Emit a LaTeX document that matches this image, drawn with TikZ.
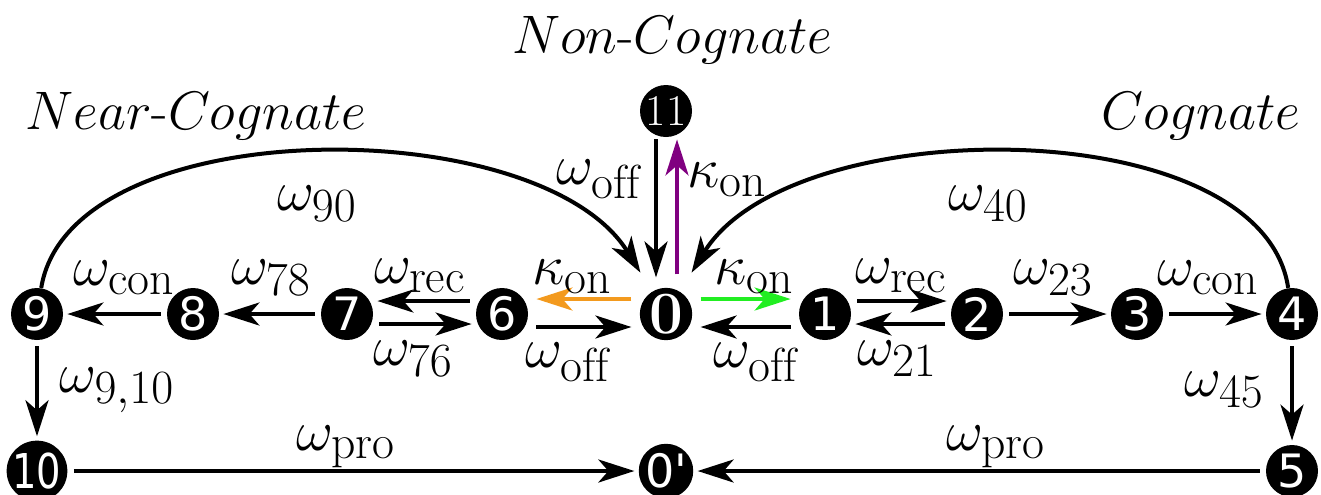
\documentclass[tikz,border=0pt]{standalone}
\usepackage{graphicx}
\usepackage{fontspec}
\newfontfamily\numfont{DejaVu Sans}
\usetikzlibrary{arrows.meta}
\definecolor{korange}{RGB}{243,154,30}
\definecolor{kgreen}{RGB}{34,238,34}
\definecolor{kpurple}{RGB}{128,0,128}
\newcommand{\mylbl}[1]{\scalebox{1.15}{\Huge$#1$}}
\newcommand{\myttl}[1]{\scalebox{1.09}{\Huge #1}}
\begin{document}
\begin{tikzpicture}[x=0.5pt,y=-0.5pt,
  st/.style={circle,fill=black,text=white,minimum size=26pt,inner sep=0pt,font=\numfont\fontsize{23}{23}\selectfont},
  ar/.style={line width=2pt,-{Stealth[length=18pt,width=11.5pt,inset=5pt]},shorten >=2pt,shorten <=3pt},
  near/.style={shorten >=4pt,shorten <=4pt},
  lab/.style={inner sep=0pt},
  ttl/.style={inner sep=0pt}]
\useasboundingbox (0,0) rectangle (1321,494);
% states
\node[st] (n9) at (37,314) {9};
\node[st] (n8) at (193,314) {8};
\node[st] (n7) at (347,314) {7};
\node[st] (n6) at (502,314) {6};
\node[st,font=\rmfamily\bfseries\fontsize{30}{30}\selectfont] (n0) at (666,314) {0};
\node[st] (n1) at (825,314) {1};
\node[st] (n2) at (977,314) {2};
\node[st] (n3) at (1137,314) {3};
\node[st] (n4) at (1292,314) {4};
\node[st,font=\rmfamily\fontsize{22}{22}\selectfont] (n11) at (666,111) {11};
\node[st] (n10) at (37,471) {\scalebox{0.8}[1]{\fontsize{24}{24}\selectfont 10}};
\node[st] (n0p) at (666,471) {0'};
\node[st] (n5) at (1292,471) {5};
% titles
\node[ttl] (tnon) at (672,40) {\myttl{$Non$-$Cognate$}};
\node[ttl] (tnear) at (196,116) {\myttl{$Near$-$Cognate$}};
\node[ttl] (tcog) at (1201,116) {\myttl{$Cognate$}};
% connectors
\draw[ar] (n8) -- (n9);
\draw[ar] (n7) -- (n8);
\draw[ar] ([yshift=6.5pt]n6.west) -- ([yshift=6.5pt]n7.east);
\draw[ar] ([yshift=-5pt]n7.east) -- ([yshift=-5pt]n6.west);
\draw[ar,near,draw=korange] ([yshift=7.5pt]n0.west) -- ([yshift=7.5pt]n6.east);
\draw[ar,near] ([yshift=-6.5pt]n6.east) -- ([yshift=-6.5pt]n0.west);
\draw[ar,near,draw=kgreen] ([yshift=7.5pt]n0.east) -- ([yshift=7.5pt]n1.west);
\draw[ar,near] ([yshift=-6.5pt]n1.west) -- ([yshift=-6.5pt]n0.east);
\draw[ar] ([yshift=6.5pt]n1.east) -- ([yshift=6.5pt]n2.west);
\draw[ar] ([yshift=-5pt]n2.west) -- ([yshift=-5pt]n1.east);
\draw[ar] (n2) -- (n3);
\draw[ar] (n3) -- (n4);
\draw[ar] (n4) -- (n5);
\draw[ar] (n9) -- (n10);
\draw[ar] (n10) -- (n0p);
\draw[ar] (n5) -- (n0p);
\draw[ar,shorten <=1pt,shorten >=5pt] ([xshift=-5pt]n11.south) -- ([xshift=-5pt]n0.north);
\draw[ar,draw=kpurple,shorten <=6.5pt,shorten >=1pt] ([xshift=5.5pt]n0.north) -- ([xshift=5.5pt]n11.south);
\draw[ar,shorten <=0pt,shorten >=11pt] (n9) .. controls (70,110) and (540,110) .. (n0);
\draw[ar,shorten <=0pt,shorten >=11pt] (n4) .. controls (1262,110) and (792,110) .. (n0);
% labels
\node[lab] (l11a) at (599,179) {\mylbl{\omega_{\mathrm{off}}}};
\node[lab] (l11b) at (727,180) {\mylbl{\kappa_{\mathrm{on}}}};
\node[lab] (lor) at (572,277) {\mylbl{\kappa_{\mathrm{on}}}};
\node[lab] (lgr) at (754,277) {\mylbl{\kappa_{\mathrm{on}}}};
\node[lab] (l60) at (568,362) {\mylbl{\omega_{\mathrm{off}}}};
\node[lab] (l10) at (756,362) {\mylbl{\omega_{\mathrm{off}}}};
\node[lab] (l67) at (420,276) {\mylbl{\omega_{\mathrm{rec}}}};
\node[lab] (l76) at (413,359) {\mylbl{\omega_{76}}};
\node[lab] (l12) at (901,276) {\mylbl{\omega_{\mathrm{rec}}}};
\node[lab] (l21) at (897,359) {\mylbl{\omega_{21}}};
\node[lab] (l23) at (1053,278) {\mylbl{\omega_{23}}};
\node[lab] (l34) at (1208,278) {\mylbl{\omega_{\mathrm{con}}}};
\node[lab] (l78) at (271,278) {\mylbl{\omega_{78}}};
\node[lab] (l89) at (124,278) {\mylbl{\omega_{\mathrm{con}}}};
\node[lab] (l90) at (317,204) {\mylbl{\omega_{90}}};
\node[lab] (l40) at (988,204) {\mylbl{\omega_{40}}};
\node[lab] (l910) at (117,390) {\mylbl{\omega_{9,10}}};
\node[lab] (l45) at (1224,390) {\mylbl{\omega_{45}}};
\node[lab] (lpa) at (346,447) {\mylbl{\omega_{\mathrm{pro}}}};
\node[lab] (lpb) at (996,447) {\mylbl{\omega_{\mathrm{pro}}}};
\end{tikzpicture}
\end{document}
